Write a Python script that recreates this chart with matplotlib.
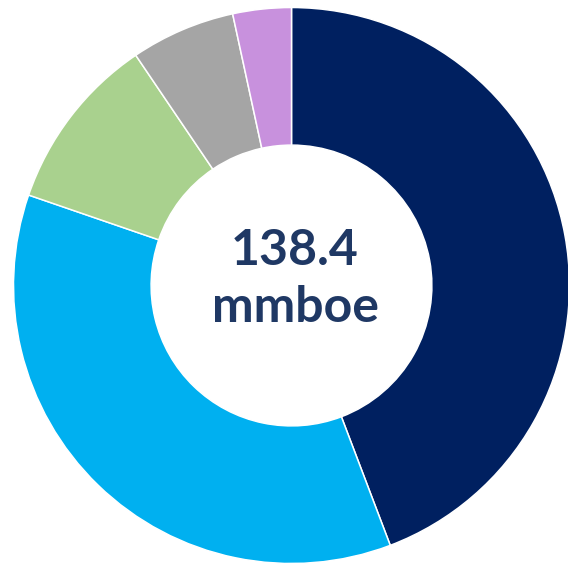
import matplotlib
matplotlib.use("Agg")
import matplotlib.pyplot as plt

# share of 138.4 mmboe, clockwise from 12 o'clock
segments = ["Navy", "Light blue", "Green", "Grey", "Purple"]
values = [61.2, 49.9, 14.2, 8.4, 4.7]
colors = ["#002060", "#00B0F0", "#A9D18E", "#A5A5A5", "#C891DD"]
total_label = "138.4"
unit_label = "mmboe"

fig = plt.figure(figsize=(5.68, 5.65), dpi=100)
ax = fig.add_axes([0, 0, 1, 1])

ax.pie(values, colors=colors, startangle=90, counterclock=False,
       radius=1.0,
       wedgeprops=dict(width=0.495, edgecolor="white", linewidth=1.1))

# center of the ring sits at pixel (291.5, 285.5), radius 278 px
scale = 278.0
ax.set_xlim(-291.5 / scale, (568 - 291.5) / scale)
ax.set_ylim(-(565 - 285.5) / scale, 285.5 / scale)
ax.set_aspect("equal")
ax.axis("off")

txt = dict(ha="center", va="baseline", color="#1F3864",
           fontweight="bold", family=["Lato", "DejaVu Sans"], fontsize=36)
ax.text(0.011, 0.074, total_label, **txt)
ax.text(0.013, -0.131, unit_label, **txt)

fig.savefig("out.png", dpi=100)
